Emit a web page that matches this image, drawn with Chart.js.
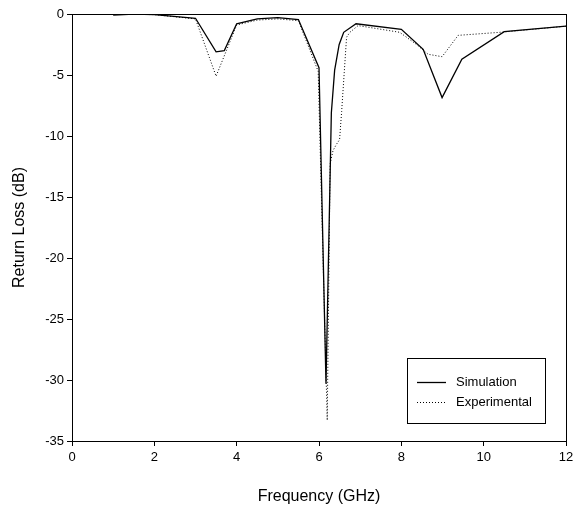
<!DOCTYPE html>
<html>
<head>
<meta charset="utf-8">
<script src="https://cdn.jsdelivr.net/npm/chart.js@4/dist/chart.umd.min.js"></script>
<style>
    html, body { margin: 0; padding: 0; background: #FFFFFF; }
    #wrap { width: 574px; height: 513px; position: relative; }
</style>
</head>
<body>
<div id="wrap"><canvas id="chart-rl"></canvas></div>
<script>
// datos
const simFreq = [1.0, 1.5, 2.0, 3.0, 3.5, 3.7, 4.0, 4.5, 5.0, 5.5, 6.0, 6.17, 6.3, 6.38, 6.49, 6.6, 6.9, 8.0, 8.53, 8.99, 9.47, 10.5, 12.0];
const simLoss = [-0.1, 0, -0.05, -0.35, -3.1, -3.0, -0.8, -0.4, -0.3, -0.45, -4.4, -30.3, -8.1, -4.6, -2.5, -1.5, -0.8, -1.25, -2.9, -6.85, -3.7, -1.45, -1.0];

const expFreq = [1.0, 2.0, 3.0, 3.5, 4.0, 4.5, 5.0, 5.5, 5.98, 6.2, 6.27, 6.34, 6.42, 6.5, 6.55, 6.67, 6.75, 6.95, 7.96, 8.37, 8.65, 8.99, 9.38, 10.4, 12.0];
const expLoss = [0, -0.05, -0.4, -5.1, -0.9, -0.5, -0.4, -0.55, -4.7, -33.3, -12.3, -11.2, -10.7, -10.3, -8.0, -1.9, -1.5, -0.95, -1.5, -2.5, -3.3, -3.5, -1.75, -1.5, -1.0];

const xTicks = [0, 2, 4, 6, 8, 10, 12];
const yTicks = [0, -5, -10, -15, -20, -25, -30, -35];

const seriesNames = ['Simulation', 'Experimental'];

const FONT = '"Liberation Sans", Arial, sans-serif';

function toPoints(xs, ys) {
    return xs.map((x, i) => ({ x: x, y: ys[i] }));
}

// marco completo del área de datos
const frameBox = {
    id: 'frameBox',
    afterDraw(chart) {
        const { ctx, chartArea: a } = chart;
        ctx.save();
        ctx.strokeStyle = '#000000';
        ctx.lineWidth = 1;
        ctx.strokeRect(a.left + 0.5, a.top + 0.5, a.right - a.left, a.bottom - a.top);
        ctx.restore();
    }
};

// leyenda dentro del gráfico, abajo a la derecha
const boxLegend = {
    id: 'boxLegend',
    afterDraw(chart) {
        const { ctx, chartArea: a } = chart;
        const w = 138, h = 65;
        const x0 = a.right - 21 - w, y0 = a.bottom - 83;
        ctx.save();
        ctx.strokeStyle = '#000000';
        ctx.lineWidth = 1;
        ctx.strokeRect(x0 + 0.5, y0 + 0.5, w, h);
        ctx.font = '13px ' + FONT;
        ctx.fillStyle = '#000000';
        ctx.textBaseline = 'middle';
        chart.data.datasets.forEach((ds, i) => {
            const yy = y0 + 24 + i * 20 + 0.5;
            ctx.beginPath();
            ctx.setLineDash(ds.borderDash || []);
            ctx.lineWidth = ds.borderWidth;
            ctx.strokeStyle = ds.borderColor;
            ctx.moveTo(x0 + 10, yy);
            ctx.lineTo(x0 + 39, yy);
            ctx.stroke();
            ctx.setLineDash([]);
            ctx.fillText(ds.label, x0 + 49, yy);
        });
        ctx.restore();
    }
};

const ctx = document.getElementById('chart-rl');

const rlChart = new Chart(ctx, {
    type: 'scatter',
    data: {
        datasets: [{
            label: seriesNames[0],
            data: toPoints(simFreq, simLoss),
            showLine: true,
            borderColor: '#000000',
            borderWidth: 1.3,
            pointRadius: 0,
            tension: 0
        }, {
            label: seriesNames[1],
            data: toPoints(expFreq, expLoss),
            showLine: true,
            borderColor: '#000000',
            borderWidth: 1,
            borderDash: [1, 2],
            pointRadius: 0,
            tension: 0
        }]
    },
    options: {
        responsive: true,
        maintainAspectRatio: false,
        animation: false,
        layout: {
            padding: { top: 14, right: 8, bottom: 0, left: 0 }
        },
        plugins: {
            legend: { display: false },
            tooltip: { enabled: false }
        },
        scales: {
            x: {
                type: 'linear',
                min: 0,
                max: 12,
                afterBuildTicks: (scale) => {
                    scale.ticks = xTicks.map(v => ({ value: v }));
                },
                afterFit: (scale) => {
                    scale.height = 72;
                    scale.paddingLeft = 0;
                    scale.paddingRight = 0;
                },
                ticks: {
                    color: '#000000',
                    padding: 4,
                    font: { family: FONT, size: 13 }
                },
                grid: {
                    drawOnChartArea: false,
                    drawTicks: true,
                    tickLength: 5,
                    color: '#000000'
                },
                border: { color: '#000000' },
                title: {
                    display: true,
                    text: 'Frequency (GHz)',
                    color: '#000000',
                    padding: { top: 4, bottom: 7 },
                    font: { family: FONT, size: 16 }
                }
            },
            y: {
                type: 'linear',
                min: -35,
                max: 0,
                afterBuildTicks: (scale) => {
                    scale.ticks = yTicks.map(v => ({ value: v }));
                },
                afterFit: (scale) => {
                    scale.width = 72;
                    scale.paddingTop = 0;
                    scale.paddingBottom = 0;
                },
                ticks: {
                    color: '#000000',
                    padding: 3,
                    font: { family: FONT, size: 13 }
                },
                grid: {
                    drawOnChartArea: false,
                    drawTicks: true,
                    tickLength: 5,
                    color: '#000000'
                },
                border: { color: '#000000' },
                title: {
                    display: true,
                    text: 'Return Loss (dB)',
                    color: '#000000',
                    padding: { top: 10, bottom: 4 },
                    font: { family: FONT, size: 16 }
                }
            }
        }
    },
    plugins: [frameBox, boxLegend]
});
</script>
</body>
</html>
